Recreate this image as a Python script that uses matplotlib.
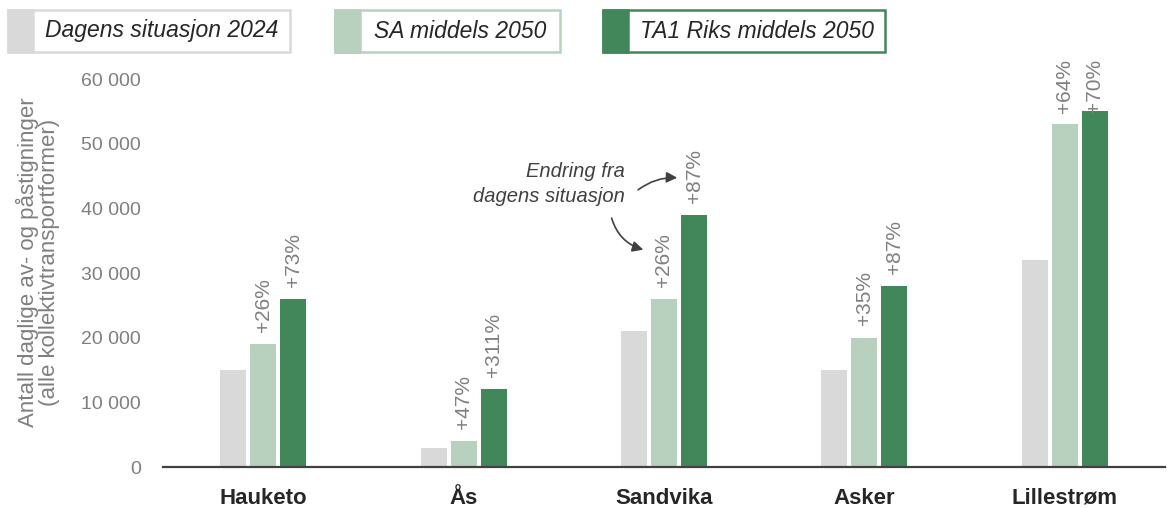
import matplotlib
matplotlib.use("Agg")
import matplotlib.pyplot as plt
from matplotlib.patches import Rectangle
import numpy as np

plt.rcParams["font.family"] = ["Liberation Sans Narrow", "Liberation Sans", "DejaVu Sans"]

# data
places = ["Hauketo", "Ås", "Sandvika", "Asker", "Lillestrøm"]
series = ["Dagens situasjon 2024", "SA middels 2050", "TA1 Riks middels 2050"]
dagens = [15000, 3000, 21000, 15000, 32000]
sa_2050 = [19000, 4000, 26000, 20000, 53000]
ta1_2050 = [26000, 12000, 39000, 28000, 55000]
sa_change = ["+26%", "+47%", "+26%", "+35%", "+64%"]
ta1_change = ["+73%", "+311%", "+87%", "+87%", "+70%"]
yticks = [0, 10000, 20000, 30000, 40000, 50000, 60000]

colors = ["#D9D9D9", "#B8D1BF", "#41875A"]
grey_txt = "#7F7F7F"
dark_txt = "#262626"

W, H = 1167, 508
fig = plt.figure(figsize=(W / 100, H / 100), dpi=100)
ax = fig.add_axes([163 / W, 1 - 467 / H, (1165 - 163) / W, (467 - 79) / H])

x = np.arange(len(places))
bw, off = 0.13, 0.15
for i, (vals, c) in enumerate(zip([dagens, sa_2050, ta1_2050], colors)):
    ax.bar(x + (i - 1) * off, vals, width=bw, color=c, zorder=2)

gap, lab_cap = 1900, 54800
for xi, v, s in zip(x, sa_2050, sa_change):
    ax.text(xi, min(v + gap, lab_cap), s, rotation=90, ha="center", va="bottom",
            fontsize=15, color=grey_txt, clip_on=False)
for xi, v, s in zip(x, ta1_2050, ta1_change):
    ax.text(xi + off, min(v + gap, lab_cap), s, rotation=90, ha="center", va="bottom",
            fontsize=15, color=grey_txt, clip_on=False)

ax.set_xlim(-0.5, 4.5)
ax.set_ylim(0, 60000)
ax.set_yticks(yticks)
ax.set_yticklabels([f"{t:,}".replace(",", " ") for t in yticks], fontsize=14, color=grey_txt)
ax.set_xticks(x)
ax.set_xticklabels(places, fontsize=16, color=dark_txt, fontweight="bold")
ax.tick_params(axis="y", length=0, pad=16)
ax.tick_params(axis="x", length=0, pad=15)
for sp in ["top", "right", "left"]:
    ax.spines[sp].set_visible(False)
ax.spines["bottom"].set_color("#404040")
ax.spines["bottom"].set_linewidth(1.6)
ax.spines["bottom"].set_zorder(3)

fig.text(38 / W, 1 - 262 / H, "Antall daglige av- og påstigninger\n(alle kollektivtransportformer)",
         rotation=90, ha="center", va="center", fontsize=16, color=grey_txt, linespacing=1.0)

# annotation with arrows
ax.text(1.805, 43800, "Endring fra\ndagens situasjon", ha="right", va="center",
        fontsize=14.5, style="italic", color="#404040", linespacing=1.4)
ax.annotate("", xy=(2.08, 44700), xytext=(1.86, 42600),
            arrowprops=dict(arrowstyle="-|>", color="#404040", lw=1.2,
                            connectionstyle="arc3,rad=-0.2", mutation_scale=16))
ax.annotate("", xy=(1.91, 33500), xytext=(1.735, 38900),
            arrowprops=dict(arrowstyle="-|>", color="#404040", lw=1.2,
                            connectionstyle="arc3,rad=0.3", mutation_scale=16))

# legend boxes drawn in pixel positions
def px(xp, yp):
    return xp / W, 1 - yp / H

legend_boxes = [(8, 290), (335, 560), (603, 885)]
for (x0, x1), c, lab in zip(legend_boxes, colors, series):
    y0, y1 = 10, 52
    fx, fy = px(x0, y1)
    fig.add_artist(Rectangle((fx, fy), (x1 - x0) / W, (y1 - y0) / H, transform=fig.transFigure,
                             facecolor="white", edgecolor=c, lw=1.8))
    fig.add_artist(Rectangle((fx, fy), 25 / W, (y1 - y0) / H, transform=fig.transFigure,
                             facecolor=c, edgecolor=c, lw=1.8))
    tx, ty = px((x0 + 25 + x1) / 2, (y0 + y1) / 2)
    fig.text(tx, ty, lab, ha="center", va="center", fontsize=16.5, style="italic", color=dark_txt)

fig.savefig("out.png", dpi=100)
